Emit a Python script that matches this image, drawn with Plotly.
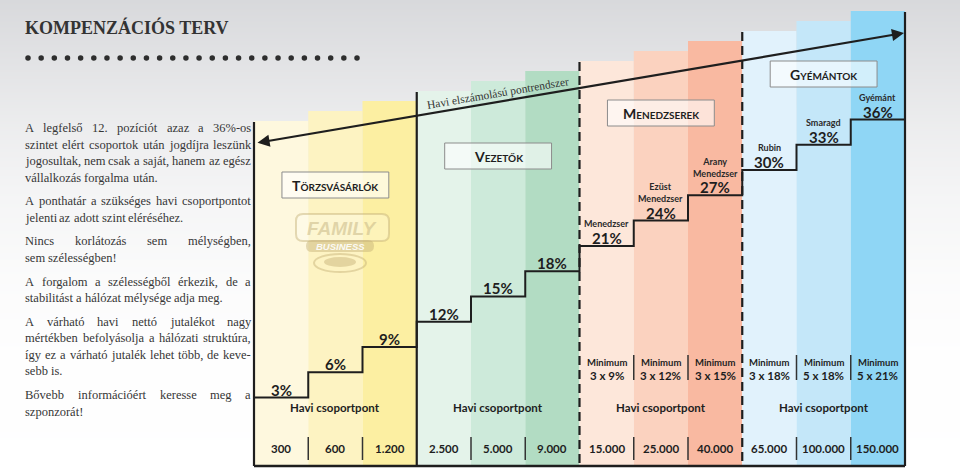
import unicodedata
import plotly.graph_objects as go

# ---------------- data ----------------
title_text = "KOMPENZÁCIÓS TERV"
levels = list(range(12))
percents = [3, 6, 9, 12, 15, 18, 21, 24, 27, 30, 33, 36]
thresholds = ["300", "600", "1.200", "2.500", "5.000", "9.000",
              "15.000", "25.000", "40.000", "65.000", "100.000", "150.000"]
rank_names = ["", "", "", "", "", "", "Menedzser", "Ezüst<br>Menedzser",
              "Arany<br>Menedzser", "Rubin", "Smaragd", "Gyémánt"]
minimum_req = ["", "", "", "", "", "", "3 x 9%", "3 x 12%", "3 x 15%",
               "3 x 18%", "5 x 18%", "5 x 21%"]
group_names = ["Törzsvásárlók", "Vezetők", "Menedzserek", "Gyémántok"]
group_first = [0, 3, 6, 9]
group_last = [2, 5, 8, 11]
group_caption = "Havi csoportpont"
arrow_caption = "Havi elszámolású pontrendszer"
minimum_word = "Minimum"
paragraphs = [
    ["A legfelső 12. pozíciót azaz a 36%-os",
     "szintet elért csoportok után jogdíjra leszünk",
     "jogosultak, nem csak a saját, hanem az egész",
     "vállalkozás forgalma után."],
    ["A ponthatár a szükséges havi csoportpontot",
     "jelenti az adott szint eléréséhez."],
    ["Nincs korlátozás sem mélységben,",
     "sem szélességben!"],
    ["A forgalom a szélességből érkezik, de a",
     "stabilitást a hálózat mélysége adja meg."],
    ["A várható havi nettó jutalékot nagy",
     "mértékben befolyásolja a hálózati struktúra,",
     "így ez a várható jutalék lehet több, de keve-",
     "sebb is."],
    ["Bővebb információért keresse meg a",
     "szponzorát!"],
]

# ---------------- styles ----------------
column_colors = ["#fef8de", "#fdf3c2", "#fcefa2",
                 "#e4f3ea", "#cdeada", "#b2dcc3",
                 "#fde7da", "#fbd2bf", "#f9b9a1",
                 "#e1f2fc", "#c4e7f9", "#8fd6f5"]
INK = "#1e1e1e"
SANS = "Lato"
SERIF = "Liberation Serif"

W, H = 960, 470
X0_PX, COL_PX = 254.0, 54.25     # left edge of first column, column width (px)
Y3_PX, STEP_PX = 397.5, 25.27    # pixel row of the 3% level, px per 3% step


def dx(px):
    return (px - X0_PX) / COL_PX - 0.5


def dy(py):
    return 3 + (Y3_PX - py) / STEP_PX * 3


def xp(px):
    return px / W


def yp(py):
    return 1 - py / H


fig = go.Figure()

# background gradient
bg_py = [-40, 0, 60, 130, 200, 280, 360, 520]
bg_gray = [214, 216, 226, 237, 245, 251, 254, 255]
fig.add_trace(go.Heatmap(
    x=[dx(-40), dx(1000)], y=[dy(p) for p in reversed(bg_py)],
    z=[[g, g] for g in reversed(bg_gray)], zmin=214, zmax=255,
    colorscale=[[0, "rgb(214,215,218)"], [1, "rgb(255,255,255)"]],
    zsmooth="best", showscale=False, hoverinfo="skip"))

# stepped coloured columns
bar_base = dy(467)
col_top_px = [121 - 10 * i for i in levels]
fig.add_trace(go.Bar(
    x=levels, y=[dy(t) - bar_base for t in col_top_px], base=bar_base,
    width=1.0, marker=dict(color=column_colors, line=dict(width=0)),
    hoverinfo="skip"))

# percentage staircase
fig.add_trace(go.Scatter(
    x=[i - 0.5 for i in levels] + [levels[-1] + 0.5],
    y=percents + [percents[-1]], mode="lines",
    line=dict(color=INK, width=2, shape="hv"), hoverinfo="skip"))

# dotted rule under the title
n_dots = 26
fig.add_trace(go.Scatter(
    x=[dx(28 + i * (357 - 28) / (n_dots - 1)) for i in range(n_dots)],
    y=[dy(58)] * n_dots, mode="markers",
    marker=dict(size=5.5, color="#2e2e2e"), hoverinfo="skip"))

shapes = []
annotations = []


def ptext(px, py, text, font, xanchor="center", **kw):
    d = dict(x=xp(px), y=yp(py), xref="paper", yref="paper", text=text, showarrow=False,
             xanchor=xanchor, yanchor="middle", font=font)
    d.update(kw)
    annotations.append(d)


# group boundary lines
bounds = [g - 0.5 for g in group_first] + [levels[-1] + 0.5]
bound_top = [col_top_px[g] + 1 for g in group_first] + [col_top_px[-1] + 1]
bound_dash = ["solid", "solid", "9px,5px", "9px,5px", "solid"]
for b, t, d in zip(bounds, bound_top, bound_dash):
    shapes.append(dict(type="line", xref="x", yref="y", x0=b, x1=b,
                       y0=dy(t), y1=dy(466), line=dict(color=INK, width=2.2, dash=d)))
# bottom rule
shapes.append(dict(type="line", xref="x", yref="y", x0=-0.5, x1=11.5,
                   y0=dy(466), y1=dy(466), line=dict(color=INK, width=2.5)))

# threshold labels and separators
for i in levels:
    annotations.append(dict(x=i, y=dy(448), xref="x", yref="y", text=thresholds[i],
                            showarrow=False, yanchor="middle",
                            font=dict(family=SANS, size=11.5, color=INK, weight="bold")))
    if i not in group_last:
        shapes.append(dict(type="line", xref="x", yref="y", x0=i + 0.5, x1=i + 0.5,
                           y0=dy(437), y1=dy(460), line=dict(color="#333", width=1.5)))

# group captions, boxes
box_top = [172, 143, 100, 61]
for k, name in enumerate(group_names):
    cx = (group_first[k] + group_last[k]) / 2
    annotations.append(dict(x=cx, y=dy(407), xref="x", yref="y", text=group_caption,
                            showarrow=False, yanchor="middle",
                            font=dict(family=SANS, size=11.5, color=INK, weight="bold")))
    shapes.append(dict(type="rect", xref="x", yref="y", x0=cx - 0.985, x1=cx + 0.985,
                       y0=dy(box_top[k]), y1=dy(box_top[k] + 26),
                       fillcolor="rgba(255,255,255,0.6)", line=dict(color="#8c8c8c", width=1)))
    up = name.upper()
    sc = ("<span style='font-size:14px'>" + up[0] + "</span>"
          "<span style='font-size:10px'>" + up[1:] + "</span>")
    annotations.append(dict(x=cx, y=dy(box_top[k] + 13.5), xref="x", yref="y", text=sc,
                            showarrow=False, yanchor="middle",
                            font=dict(family=SANS, size=10, color=INK, weight="bold")))

# percentage labels, rank names, minimum requirements
for i in levels:
    annotations.append(dict(x=i, y=percents[i], xref="x", yref="y", text=f"{percents[i]}%",
                            showarrow=False, yanchor="middle", yshift=8,
                            borderpad=0, borderwidth=0,
                            font=dict(family=SANS, size=15, color=INK, weight="bold")))
    if rank_names[i]:
        n_lines = rank_names[i].count("<br>") + 1
        annotations.append(dict(x=i, y=percents[i], xref="x", yref="y", text=rank_names[i],
                                showarrow=False, yanchor="middle", yshift=22.5 + 5.5 * (n_lines - 1),
                                borderpad=0, borderwidth=0,
                                font=dict(family=SANS, size=9, color="#2a2a2a", weight="bold")))
    if minimum_req[i]:
        annotations.append(dict(x=i, y=dy(362), xref="x", yref="y", text=minimum_word,
                                showarrow=False, yanchor="middle",
                                font=dict(family=SANS, size=9.5, color=INK, weight="bold")))
        annotations.append(dict(x=i, y=dy(375), xref="x", yref="y", text=minimum_req[i],
                                showarrow=False, yanchor="middle",
                                font=dict(family=SANS, size=11.5, color=INK, weight="bold")))
        if i not in group_last:
            shapes.append(dict(type="line", xref="x", yref="y", x0=i + 0.5, x1=i + 0.5,
                               y0=dy(355), y1=dy(380), line=dict(color="#333", width=1.5)))

# long double arrow + caption
annotations.append(dict(x=dx(904), y=dy(33), ax=dx(256), ay=dy(143), xref="x", yref="y",
                        axref="x", ayref="y", text="", showarrow=True, arrowhead=2,
                        startarrowhead=2, arrowside="end+start", arrowwidth=2.2,
                        arrowsize=1.1, startarrowsize=1.1, arrowcolor=INK))
ptext(498, 93, arrow_caption, dict(family=SERIF, size=11.5, color="#333"), textangle=-9.6)

# title
ptext(25, 27, "<b>" + title_text + "</b>", dict(family=SERIF, size=18, color="#333"),
      xanchor="left", borderpad=0, borderwidth=0)

# justified paragraphs (Times / Liberation Serif advance widths, 1/1000 em)
TW = dict(a=444, b=500, c=444, d=500, e=444, f=333, g=500, h=500, i=278, j=278, k=500,
          l=278, m=778, n=500, o=500, p=500, q=500, r=333, s=389, t=278, u=500, v=500,
          w=722, x=500, y=500, z=444, A=722, B=667, N=722)
TW.update({" ": 250, ".": 250, ",": 250, "%": 833, "-": 333, "!": 333})
for dg in "0123456789":
    TW[dg] = 500


def word_w(s, fs):
    tot = 0
    for ch in s:
        base = unicodedata.normalize("NFD", ch)[0]
        tot += TW.get(base, 500)
    return tot * fs / 1000


FS = 12.5
LEFT, RIGHT = 25, 251
LINE_STEP, PARA_STEP = 16.6, 23.5
py = 128
for para in paragraphs:
    for li, line in enumerate(para):
        words = line.split(" ")
        ws = [word_w(w, FS) for w in words]
        last = li == len(para) - 1
        if not last and len(words) > 1:
            gap = (RIGHT - LEFT - sum(ws)) / (len(words) - 1)
        else:
            gap = 250 * FS / 1000
        x = LEFT
        for w, wd in zip(words, ws):
            ptext(x, py, w, dict(family=SERIF, size=FS, color="#363636"),
                  xanchor="left", borderpad=0, borderwidth=0)
            x += wd + gap
        if not last:
            py += LINE_STEP
    py += PARA_STEP

# watermark logo
LOGO = "rgba(196,176,118,0.45)"
shapes.append(dict(type="path", xref="paper", yref="paper",
                   path=(f"M {xp(303)},{yp(214)} L {xp(382)},{yp(214)} Q {xp(389)},{yp(214)} {xp(389)},{yp(221)} "
                         f"L {xp(389)},{yp(234)} Q {xp(389)},{yp(241)} {xp(382)},{yp(241)} "
                         f"L {xp(303)},{yp(241)} Q {xp(296)},{yp(241)} {xp(296)},{yp(234)} "
                         f"L {xp(296)},{yp(221)} Q {xp(296)},{yp(214)} {xp(303)},{yp(214)} Z"),
                   line=dict(color=LOGO, width=2), fillcolor="rgba(255,255,255,0.25)"))
shapes.append(dict(type="path", xref="paper", yref="paper",
                   path=(f"M {xp(312)},{yp(240)} L {xp(368)},{yp(240)} Q {xp(374)},{yp(240)} {xp(374)},{yp(246)} "
                         f"Q {xp(374)},{yp(252)} {xp(368)},{yp(252)} L {xp(312)},{yp(252)} "
                         f"Q {xp(306)},{yp(252)} {xp(306)},{yp(246)} Q {xp(306)},{yp(240)} {xp(312)},{yp(240)} Z"),
                   line=dict(width=0), fillcolor=LOGO))
shapes.append(dict(type="circle", xref="paper", yref="paper", x0=xp(314), x1=xp(366),
                   y0=yp(254), y1=yp(272), line=dict(color=LOGO, width=2)))
shapes.append(dict(type="circle", xref="paper", yref="paper", x0=xp(324), x1=xp(356),
                   y0=yp(257), y1=yp(267), line=dict(width=0), fillcolor=LOGO))
ptext(342, 228, "<b><i>FAMILY</i></b>",
      dict(family="Liberation Sans", size=19, color="rgba(205,190,140,0.6)"))
ptext(340, 246.5, "<b><i>BUSINESS</i></b>",
      dict(family="Liberation Sans", size=9.5, color="rgba(255,255,255,0.9)"))

fig.update_layout(
    width=W, height=H, margin=dict(l=0, r=0, t=0, b=0), autosize=False,
    paper_bgcolor="white", plot_bgcolor="white", showlegend=False,
    xaxis=dict(range=[dx(0), dx(W)], visible=False, fixedrange=True),
    yaxis=dict(range=[dy(H), dy(0)], visible=False, fixedrange=True),
    shapes=shapes, annotations=annotations,
)

fig.write_html("out.html", config={"displayModeBar": False},
               post_script="document.body.style.margin='0px';document.body.style.overflow='hidden';")
